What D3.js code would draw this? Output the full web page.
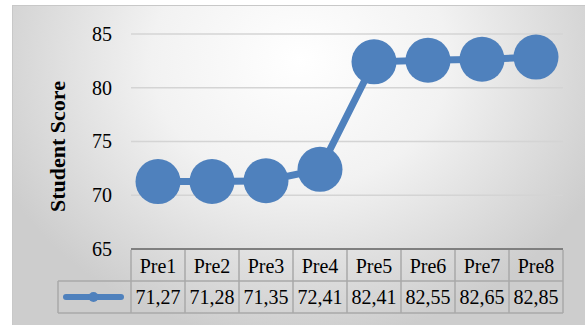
<!DOCTYPE html>
<html><head><meta charset="utf-8">
<script src="https://cdn.jsdelivr.net/npm/d3@7"></script>
<style>html,body{margin:0;padding:0;background:#fff;}svg{display:block;}
svg text{font-family:"Liberation Serif","Times New Roman",Times,serif;}</style>
</head><body>
<script>
const categories = ["Pre1","Pre2","Pre3","Pre4","Pre5","Pre6","Pre7","Pre8"];
const scores = [71.27,71.28,71.35,72.41,82.41,82.55,82.65,82.85];
const scoreLabels = ["71,27","71,28","71,35","72,41","82,41","82,55","82,65","82,85"];
const yTicks = [65,70,75,80,85];
const yTitle = "Student Score";

const W=585,H=325;
const svg=d3.select("body").append("svg").attr("width",W).attr("height",H);
const defs=svg.append("defs");
const g=defs.append("radialGradient").attr("id","bg").attr("gradientUnits","userSpaceOnUse")
  .attr("cx",300).attr("cy",60).attr("r",330).attr("gradientTransform","translate(300,60) scale(1,0.85) translate(-300,-60)");
g.append("stop").attr("offset","0%").attr("stop-color","#ffffff");
g.append("stop").attr("offset","45%").attr("stop-color","#f2f2f2");
g.append("stop").attr("offset","100%").attr("stop-color","#cdcdcd");
svg.append("rect").attr("x",12.5).attr("y",5.5).attr("width",W-12).attr("height",H-5)
  .attr("fill","url(#bg)").attr("stroke","#c8c8c8").attr("stroke-width",1);

const x=d3.scaleBand().domain(categories).range([131,563]).padding(0);
const y=d3.scaleLinear().domain([65,85]).range([249,34]);

// gridlines
svg.append("g").selectAll("line").data(yTicks.filter(t=>t>65)).join("line")
  .attr("x1",131).attr("x2",563).attr("y1",d=>y(d)).attr("y2",d=>y(d))
  .attr("stroke","#d4d4d4").attr("stroke-width",1.5);

// y axis labels
const ya=svg.append("g").attr("transform","translate(112,0)")
  .call(d3.axisLeft(y).tickValues(yTicks).tickSize(0).tickPadding(0).tickFormat(d3.format("d")));
ya.attr("font-family",null).attr("font-size",null);
ya.select(".domain").remove();
ya.selectAll("text").attr("font-size",20).attr("fill","#000").attr("dy","0.32em");

svg.append("text").attr("transform","translate(65,146.5) rotate(-90)")
  .attr("text-anchor","middle").attr("font-weight","bold")
  .attr("font-size",22).text(yTitle);

// table
const rowTop=250, rowMid=281, rowBot=313, legL=58;
const tb=svg.append("g").attr("stroke","#a9a9a9").attr("stroke-width",1.5).attr("fill","none");
tb.append("line").attr("x1",131).attr("x2",563).attr("y1",rowMid).attr("y2",rowMid);
tb.append("line").attr("x1",legL).attr("x2",131).attr("y1",rowMid).attr("y2",rowMid);
tb.append("line").attr("x1",legL).attr("x2",563).attr("y1",rowBot).attr("y2",rowBot);
tb.append("line").attr("x1",legL).attr("x2",legL).attr("y1",rowMid).attr("y2",rowBot);
tb.selectAll(".v").data(categories).join("line").attr("class","v")
  .attr("x1",d=>x(d)).attr("x2",d=>x(d)).attr("y1",rowTop).attr("y2",rowBot);
tb.append("line").attr("x1",563).attr("x2",563).attr("y1",rowTop).attr("y2",rowBot);
// axis line
svg.append("line").attr("x1",131).attr("x2",563).attr("y1",y(65)).attr("y2",y(65))
  .attr("stroke","#7f7f7f").attr("stroke-width",2);

svg.append("g").selectAll("text").data(categories).join("text")
  .attr("x",d=>x(d)+x.bandwidth()/2).attr("y",(rowTop+rowMid)/2).attr("dy","0.35em")
  .attr("text-anchor","middle").attr("font-size",20).text(d=>d);
svg.append("g").selectAll("text").data(scoreLabels).join("text")
  .attr("x",(d,i)=>x(categories[i])+x.bandwidth()/2).attr("y",(rowMid+rowBot)/2).attr("dy","0.35em")
  .attr("text-anchor","middle").attr("font-size",20).text(d=>d);

const blue="#4f81bd";
// legend key
svg.append("line").attr("x1",66).attr("x2",121).attr("y1",297).attr("y2",297)
  .attr("stroke",blue).attr("stroke-width",6).attr("stroke-linecap","round");
svg.append("circle").attr("cx",93.5).attr("cy",297).attr("r",5).attr("fill",blue);

// series
const cx=d=>x(d)+x.bandwidth()/2;
svg.append("path").datum(scores)
  .attr("d",d3.line().x((d,i)=>cx(categories[i])).y(d=>y(d)))
  .attr("fill","none").attr("stroke",blue).attr("stroke-width",7);
svg.append("g").selectAll("circle").data(scores).join("circle")
  .attr("cx",(d,i)=>cx(categories[i])).attr("cy",d=>y(d)).attr("r",22.5).attr("fill",blue);
</script>
</body></html>
